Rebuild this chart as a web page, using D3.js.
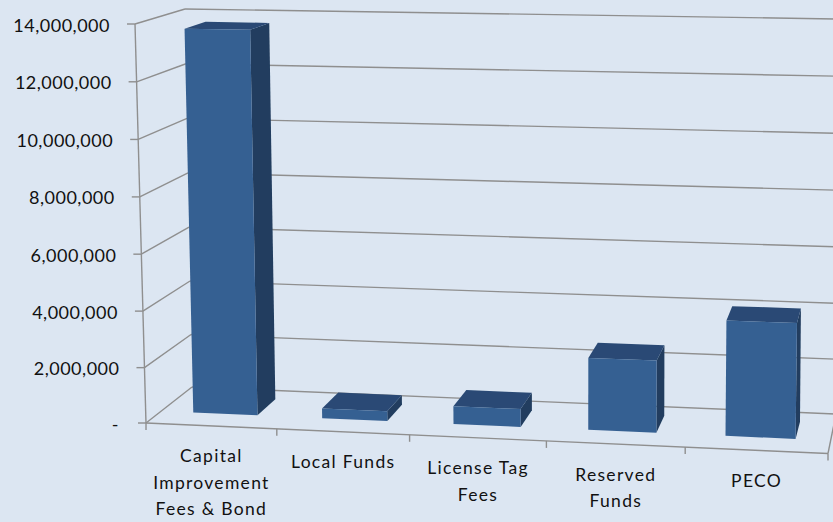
<!DOCTYPE html>
<html><head><meta charset="utf-8">
<script src="https://cdn.jsdelivr.net/npm/d3@7/dist/d3.min.js"></script>
<style>html,body{margin:0;padding:0;background:#DCE6F2;overflow:hidden}svg{display:block}text{font-family:Lato,"Open Sans",sans-serif;fill:#111}</style>
</head><body><svg id="c" width="833" height="522"></svg>
<script>
const categories = [["Capital","Improvement","Fees & Bond"],["Local Funds"],["License Tag","Fees"],["Reserved","Funds"],["PECO"]];
const values = [13680000, 360000, 650000, 2560000, 4040000];
const tickValues = [0,2000000,4000000,6000000,8000000,10000000,12000000,14000000];
const tickLabels = ["-","2,000,000","4,000,000","6,000,000","8,000,000","10,000,000","12,000,000","14,000,000"];

const corners = {
  f0l:[146,423], f1l:[135,24], b0l:[192,387], b1l:[185,9],
  f0r:[828,453.5], f1r:[835,36], b0r:[836,414], b1r:[839,19]
};
const uScale = d3.scaleLinear().domain([0,1,2,3,4,5]).range([0,.1918,.3865,.5871,.7906,1]);
const vScale = d3.scalePow().exponent(1.015).domain([0,14000000]).range([0,1]);
const dScale = d3.scaleLinear().domain([0,1]).range([0,1]);
const mix = (a,b,t)=>[a[0]+(b[0]-a[0])*t,a[1]+(b[1]-a[1])*t];
function P(u,v,d){
  const tu=uScale(u),tv=vScale(v),td=dScale(d);
  const L=mix(mix(corners.f0l,corners.f1l,tv),mix(corners.b0l,corners.b1l,tv),td);
  const R=mix(mix(corners.f0r,corners.f1r,tv),mix(corners.b0r,corners.b1r,tv),td);
  return mix(L,R,tu);
}
const svg=d3.select("#c");
svg.append("rect").attr("width",833).attr("height",522).attr("fill","#DCE6F2");
const defs=svg.append("defs");
defs.append("filter").attr("id","soft").append("feGaussianBlur").attr("stdDeviation",0.5);
const poly=d3.line();
const lineG=svg.append("g").attr("fill","none").attr("stroke","#8f8f8f").attr("stroke-width",1.4).attr("filter","url(#soft)");
const seg=(a,b)=>lineG.append("path").attr("d",poly([a,b]));
tickValues.forEach(t=>{
  seg(P(5,t,1),P(0,t,1));
  seg(P(0,t,1),P(0,t,0));
  const p=P(0,t,0); seg(p,[p[0]-8,p[1]]);
});
seg(P(0,0,0),P(0,14000000,0));
seg(P(0,0,0),P(5,0,0));
seg(P(5,0,0),P(5,0,1));
d3.range(6).forEach(i=>{const p=P(i,0,0); seg(p,[p[0],p[1]+7]);});

const front=.33, back=.77, lo=.25, hi=.75;
const barG=svg.append("g").attr("filter","url(#soft)");
values.forEach((val,i)=>{
  const a=i+lo,b=i+hi;
  const face=(pts,c)=>barG.append("path").attr("d",poly(pts)+"Z").attr("fill",c);
  face([P(b,0,front),P(b,0,back),P(b,val,back),P(b,val,front)],"#203D5F");
  face([P(a,val,front),P(b,val,front),P(b,val,back),P(a,val,back)],"#2A4A75");
  face([P(a,0,front),P(b,0,front),P(b,val,front),P(a,val,front)],"#366092");
});

tickValues.forEach((t,i)=>{
  const p=P(0,t,0);
  svg.append("text").attr("x",p[0]-(t===0?27:25)).attr("y",p[1]+7.5)
    .attr("text-anchor","end").attr("font-size",18).attr("letter-spacing",".5px").text(tickLabels[i]);
});
categories.forEach((lines,i)=>{
  const p=P(i+.5,0,0);
  lines.forEach((s,j)=>{
    svg.append("text").attr("x",p[0]).attr("y",p[1]+36.5+j*26.5)
      .attr("text-anchor","middle").attr("font-size",17.5).attr("letter-spacing","1.3px").text(s);
  });
});
</script></body></html>
